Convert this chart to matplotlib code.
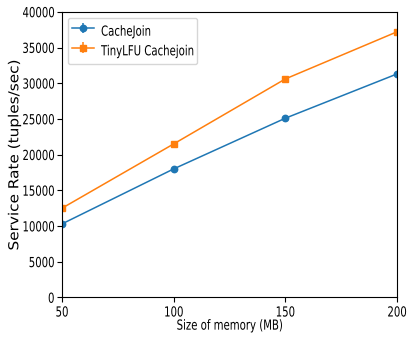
import matplotlib
matplotlib.use("Agg")
import matplotlib.pyplot as plt
from matplotlib.patheffects import AbstractPathEffect
from matplotlib.transforms import Affine2D
import numpy as np

mem_mb = [50, 100, 150, 200]
cachejoin = [10300, 18000, 25100, 31300]
tinylfu = [12500, 21500, 30600, 37200]
cachejoin_err = [150, 150, 150, 150]
tinylfu_err = [150, 150, 150, 150]

# the reference text looks squeezed sideways, so draw a small font and stretch it up
SQ = 0.73
BASE = 10.0


class Tall(AbstractPathEffect):
    def __init__(self, sy):
        super().__init__()
        self.sy = sy

    def draw_path(self, renderer, gc, tpath, affine, rgbFace=None):
        # path units are a 100pt font, stretch about mid cap height
        pre = Affine2D().translate(0, -36).scale(1, self.sy).translate(0, 36)
        renderer.draw_path(gc, tpath, pre + affine, rgbFace)


tall = [Tall(1 / SQ)]
fs = BASE * SQ

plt.rcParams['font.family'] = ['DejaVu Sans']
fig = plt.figure(figsize=(4.08, 3.38), dpi=100)
ax = fig.add_axes([0.152, 0.12, 0.821, 0.845])

ax.errorbar(mem_mb, cachejoin, yerr=cachejoin_err, marker='o', markersize=4.6,
            color='#1f77b4', linewidth=1.1, label='CacheJoin')
ax.errorbar(mem_mb, tinylfu, yerr=tinylfu_err, marker='s', markersize=4.6,
            color='#ff7f0e', linewidth=1.1, label='TinyLFU Cachejoin')

ax.set_xlim(50, 200)
ax.set_ylim(0, 40000)
ax.set_xticks([50, 100, 150, 200])
ax.set_yticks(np.arange(0, 40001, 5000))
ax.tick_params(axis='y', length=3.5, pad=2)
ax.tick_params(axis='x', length=3.5, pad=3.5)
for lab in ax.get_xticklabels() + ax.get_yticklabels():
    lab.set_fontsize(fs)
    lab.set_path_effects(tall)

ax.set_xlabel('Size of memory (MB)', fontsize=fs, path_effects=tall)
ax.set_ylabel('Service Rate (tuples/sec)', fontsize=11, path_effects=[Tall(0.9)])
ax.xaxis.set_label_coords(0.5, -0.08)
ax.yaxis.set_label_coords(-0.12, 0.5)

leg = ax.legend(loc='upper left', fontsize=fs, borderpad=0.35, labelspacing=0.0,
                handlelength=2.2, handleheight=2.6, borderaxespad=0.6,
                handletextpad=0.7)
for t in leg.get_texts():
    t.set_path_effects(tall)

fig.savefig('out.png', dpi=100)
